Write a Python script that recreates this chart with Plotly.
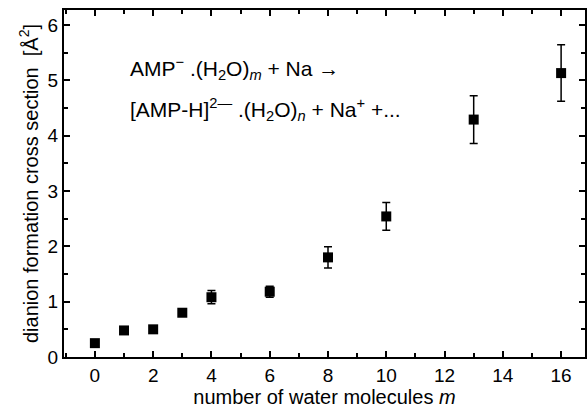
import plotly.graph_objects as go

m_values = [0, 1, 2, 3, 4, 6, 8, 10, 13, 16]
cross_section = [0.25, 0.48, 0.50, 0.80, 1.08, 1.18, 1.80, 2.54, 4.29, 5.13]
errors = [0.03, 0.03, 0.03, 0.05, 0.12, 0.10, 0.19, 0.25, 0.43, 0.51]

x_ticks = [0, 2, 4, 6, 8, 10, 12, 14, 16]
y_ticks = [0, 1, 2, 3, 4, 5, 6]

font_family = "Liberation Sans, Arial, sans-serif"

fig = go.Figure()
fig.add_trace(go.Scatter(
    x=m_values, y=cross_section, mode="markers",
    marker=dict(symbol="square", size=10, color="black"),
    error_y=dict(type="data", array=errors, visible=True, color="black",
                 thickness=1.5, width=4),
    showlegend=False,
))

fig.add_annotation(x=1.13, y=5.22, xref="x", yref="y", xanchor="left", yanchor="middle",
                   text="AMP<sup>−</sup> .(H<sub>2</sub>O)<sub><i>m</i></sub> + Na →",
                   showarrow=False, font=dict(size=21, color="black", family=font_family))
fig.add_annotation(x=1.13, y=4.48, xref="x", yref="y", xanchor="left", yanchor="middle",
                   text="[AMP-H]<sup>2—</sup> .(H<sub>2</sub>O)<sub><i>n</i></sub> + Na<sup>+</sup> +...",
                   showarrow=False, font=dict(size=21, color="black", family=font_family))

axis_common = dict(
    showline=True, linecolor="black", linewidth=2, mirror="ticks",
    ticks="inside", ticklen=6, tickwidth=1.5, tickcolor="black",
    showgrid=False, zeroline=False,
    tickfont=dict(size=19, color="black", family=font_family),
)

fig.update_xaxes(
    range=[-1.06, 16.82], tickvals=x_ticks,
    minor=dict(ticks="inside", ticklen=4, tickwidth=1.5, tickcolor="black", dtick=1, tick0=1, showgrid=False),
    title=dict(text="number of water molecules <i>m</i>", font=dict(size=20, color="black", family=font_family), standoff=2),
    **axis_common,
)
fig.update_yaxes(
    range=[0, 6.27], tickvals=y_ticks,
    minor=dict(ticks="inside", ticklen=4, tickwidth=1.5, tickcolor="black", dtick=0.5, showgrid=False),
    title=dict(text="dianion formation cross section  [Å<sup>2</sup>]", font=dict(size=20, color="black", family=font_family), standoff=4),
    **axis_common,
)

fig.update_layout(
    width=587, height=410,
    margin=dict(l=64, r=0, t=10, b=53),
    paper_bgcolor="white", plot_bgcolor="white",
    font=dict(family=font_family, color="black"),
)

fig.write_html("out.html")
